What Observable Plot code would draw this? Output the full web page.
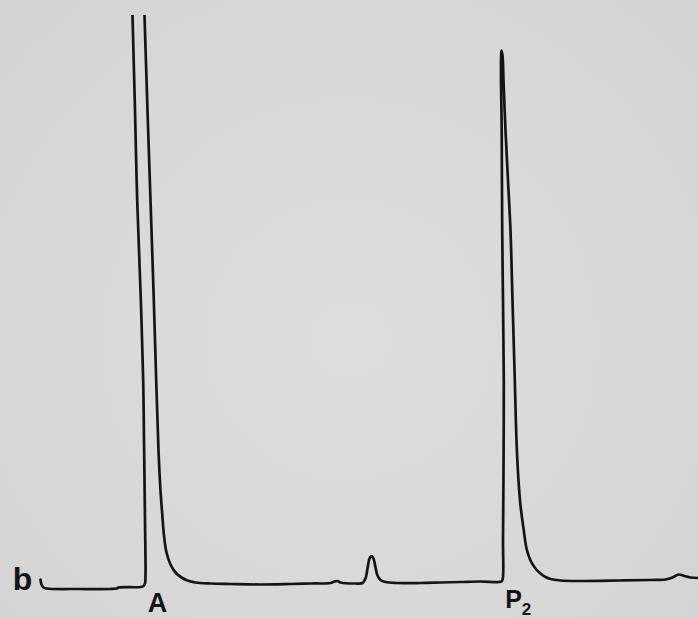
<!DOCTYPE html>
<html>
<head>
<meta charset="utf-8">
<script src="https://cdn.jsdelivr.net/npm/d3@7"></script>
<script src="https://cdn.jsdelivr.net/npm/@observablehq/plot@0.6"></script>
<style>
  html, body { margin: 0; padding: 0; }
  body {
    width: 698px; height: 618px; overflow: hidden;
    background: radial-gradient(ellipse at 50% 55%, #dddddd 0%, #d8d8d8 60%, #d3d3d3 100%);
  }
  #chart svg { display: block; background: transparent; }
</style>
</head>
<body>
<div id="chart"></div>
<script>
// Retention (time, arbitrary units) and detector signal (arbitrary units)
const time = [40, 41, 43, 46, 80, 110, 116, 118, 140, 143, 144.5, 145, 144.5, 143.5, 142.7, 140, 136.7, 134.5, 132, 129, 131, 134, 137, 140, 144, 147, 150, 153, 155.7, 158, 160, 161.7, 163.5, 166, 170, 175, 181, 187, 195, 210, 230, 260, 290, 310, 330, 334, 337, 340, 355, 362, 365, 367, 369, 371, 373, 375, 377, 380, 385, 395, 420, 440, 460, 480, 498, 501, 502.3, 502.5, 503, 503.3, 502.5, 501.7, 501.2, 500.5, 501, 502, 503, 505, 507.5, 510, 512, 514.3, 516, 518, 520, 523.3, 526, 530, 535, 540, 545, 550, 560, 580, 620, 650, 665, 672, 678, 684, 690, 698];
const signal = [11, 6, 3, 2, 1.5, 1.5, 2, 3, 3.5, 4.5, 7, 15, 70, 150, 210, 300, 390, 480, 575, 690, 715, 722, 715, 690, 575, 480, 390, 300, 210, 140, 100, 77, 55, 38, 26, 18, 13, 10, 8, 7, 6.5, 6, 6.5, 7, 7.5, 9, 9.5, 8, 7, 7.5, 12, 22, 32, 34.5, 32, 23, 15, 10.5, 8.5, 7.5, 7.5, 8, 8.5, 9, 8.5, 9, 12, 50, 120, 210, 290, 360, 460, 520, 540, 535, 510, 460, 410, 360, 290, 210, 150, 110, 85, 60, 42, 30, 22, 17, 13.5, 11.5, 10, 9.5, 10, 10.5, 11, 13, 16, 14.5, 13, 12.5];

// Labels
const panelLabel = ["b"];
const panelTime = [22];
const peakLabels = ["A", "P"];
const peakTimes = [157, 513];
const subLabels = ["2"];
const subTimes = [526];

const trace = time.map((t, i) => ({t, s: signal[i]}));
const font = "Liberation Sans, Arial, Helvetica, sans-serif";

const chart = Plot.plot({
  width: 698,
  height: 618,
  marginTop: 15,
  marginBottom: 0,
  marginLeft: 0,
  marginRight: 0,
  style: {background: "transparent"},
  x: {domain: [0, 698], axis: null},
  y: {domain: [-28, 575], axis: null},
  marks: [
    Plot.line(trace, {
      x: "t", y: "s",
      stroke: "#141414",
      strokeWidth: 2.7,
      strokeLinejoin: "round",
      strokeLinecap: "round",
      curve: "catmull-rom",
      clip: true
    }),
    Plot.text(panelLabel, {
      x: panelTime, y: [1], text: d => d,
      fontSize: 32, fontWeight: "bold", fontFamily: font,
      fill: "#141414", lineAnchor: "bottom", textAnchor: "middle"
    }),
    Plot.text(peakLabels.slice(0, 1), {
      x: peakTimes.slice(0, 1), y: [-21], text: d => d,
      fontSize: 27, fontWeight: "bold", fontFamily: font,
      fill: "#141414", lineAnchor: "bottom", textAnchor: "middle"
    }),
    Plot.text(peakLabels.slice(1), {
      x: peakTimes.slice(1), y: [-17], text: d => d,
      fontSize: 25, fontWeight: "bold", fontFamily: font,
      fill: "#141414", lineAnchor: "bottom", textAnchor: "middle"
    }),
    Plot.text(subLabels, {
      x: subTimes, y: [-24], text: d => d,
      fontSize: 17, fontWeight: "bold", fontFamily: font,
      fill: "#141414", lineAnchor: "bottom", textAnchor: "middle"
    })
  ]
});
document.getElementById("chart").appendChild(chart);
</script>
</body>
</html>
